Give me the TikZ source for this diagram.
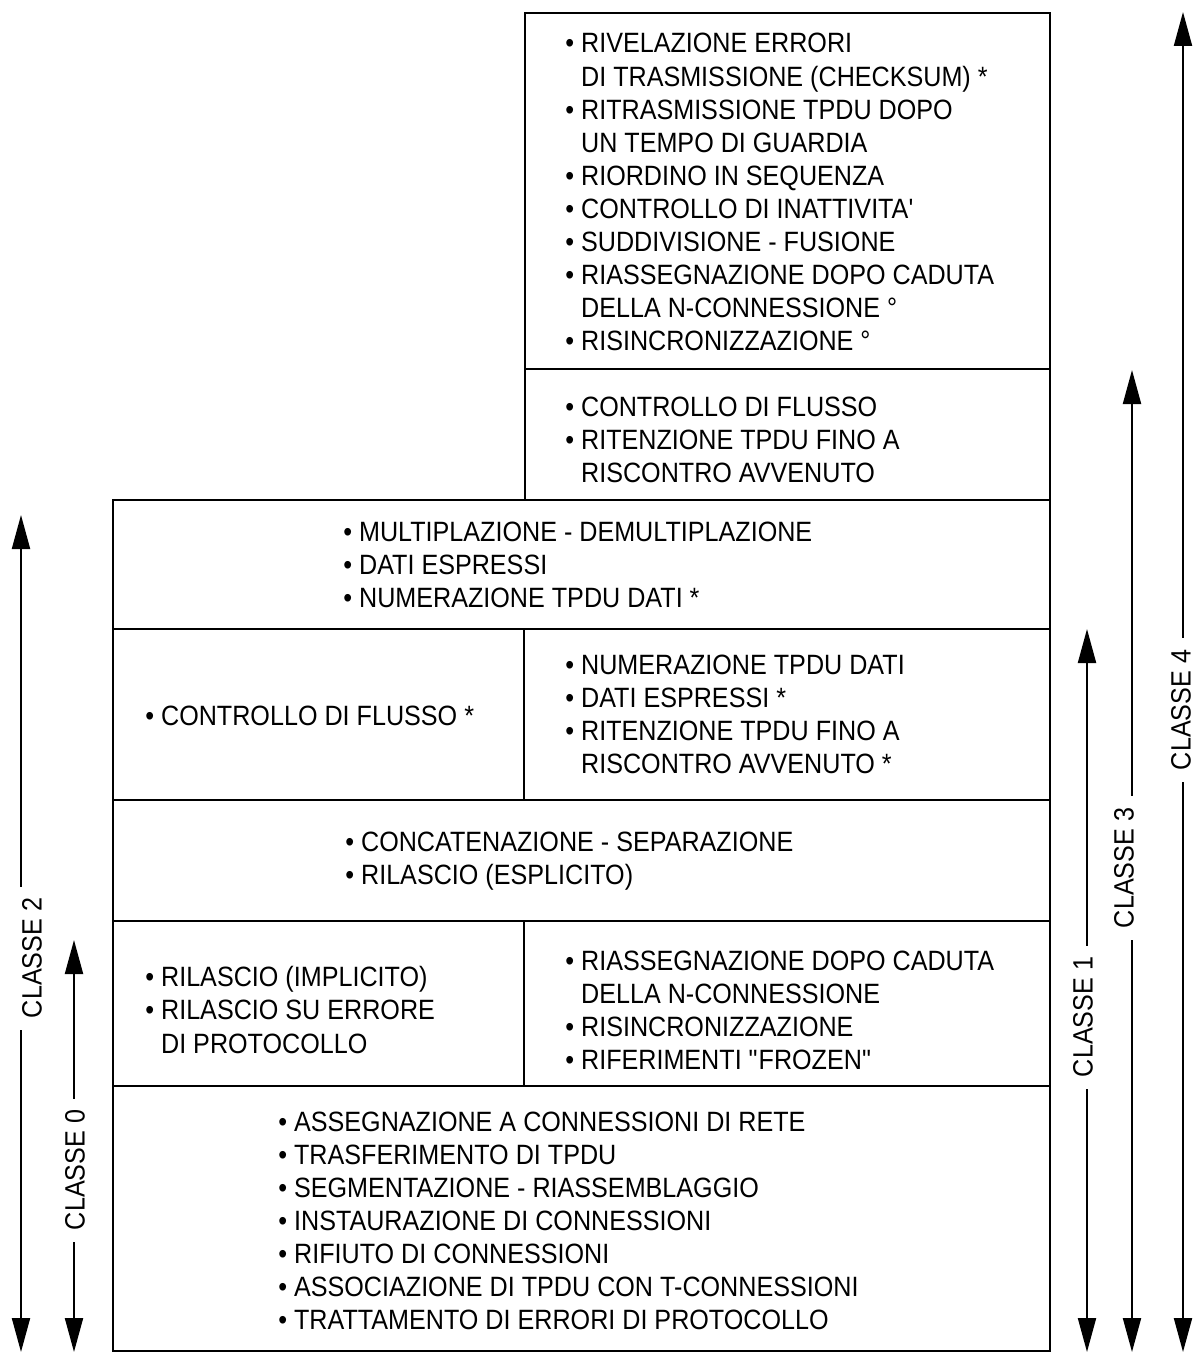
\documentclass[tikz,border=0pt]{standalone}
\usepackage{fontspec}
\setmainfont{Liberation Sans}[FakeStretch=0.9]
\usetikzlibrary{arrows.meta}

% bullet and the matching indent for wrapped lines
\newcommand{\bul}{•\ }
\newcommand{\contline}{\hphantom{•\ }}

\begin{document}
\begin{tikzpicture}[
    x=0.02cm, y=-0.02cm,
    frame/.style={line width=1.1pt},
    items/.style={anchor=west, align=left, inner sep=0pt, font=\fontsize{15.9}{18.8}\selectfont},
    classline/.style={line width=1.2pt, {Triangle[length=0.68cm,width=0.36cm]}-{Triangle[length=0.68cm,width=0.36cm]}},
    classname/.style={rotate=90, fill=white, inner xsep=6.5pt, inner ysep=1pt, font=\fontsize{15.9}{18.8}\selectfont}
]
\useasboundingbox (0,0) rectangle (1195,1353);

% Layer boxes
\draw[frame] (525,13) rectangle (1050,369);
\draw[frame] (525,369) rectangle (1050,500);
\draw[frame] (113,500) rectangle (1050,629);
\draw[frame] (113,629) rectangle (1050,800);
\draw[frame] (524,629) -- (524,800);
\draw[frame] (113,800) rectangle (1050,921);
\draw[frame] (113,921) rectangle (1050,1086);
\draw[frame] (524,921) -- (524,1086);
\draw[frame] (113,1086) rectangle (1050,1351);

% Functions in each layer
\node[items] (recovery) at (565,192) {\bul RIVELAZIONE ERRORI\\
  \contline DI TRASMISSIONE (CHECKSUM) *\\
  \bul RITRASMISSIONE TPDU DOPO\\
  \contline UN TEMPO DI GUARDIA\\
  \bul RIORDINO IN SEQUENZA\\
  \bul CONTROLLO DI INATTIVITA\textquotesingle\\
  \bul SUDDIVISIONE - FUSIONE\\
  \bul RIASSEGNAZIONE DOPO CADUTA\\
  \contline DELLA N-CONNESSIONE °\\
  \bul RISINCRONIZZAZIONE °};
\node[items] (flowctl) at (565,440) {\bul CONTROLLO DI FLUSSO\\
  \bul RITENZIONE TPDU FINO A\\
  \contline RISCONTRO AVVENUTO};
\node[items] (multiplex) at (343,565) {\bul MULTIPLAZIONE - DEMULTIPLAZIONE\\
  \bul DATI ESPRESSI\\
  \bul NUMERAZIONE TPDU DATI *};
\node[items] (flowopt) at (145,716) {\bul CONTROLLO DI FLUSSO *};
\node[items] (numbering) at (565,714) {\bul NUMERAZIONE TPDU DATI\\
  \bul DATI ESPRESSI *\\
  \bul RITENZIONE TPDU FINO A\\
  \contline RISCONTRO AVVENUTO *};
\node[items] (concat) at (345,861) {\bul CONCATENAZIONE - SEPARAZIONE\\
  \bul RILASCIO (ESPLICITO)};
\node[items] (release) at (145,1010) {\bul RILASCIO (IMPLICITO)\\
  \bul RILASCIO SU ERRORE\\
  \contline DI PROTOCOLLO};
\node[items] (reassign) at (565,1010) {\bul RIASSEGNAZIONE DOPO CADUTA\\
  \contline DELLA N-CONNESSIONE\\
  \bul RISINCRONIZZAZIONE\\
  \bul RIFERIMENTI \textquotedbl FROZEN\textquotedbl};
\node[items] (basic) at (278,1221) {\bul ASSEGNAZIONE A CONNESSIONI DI RETE\\
  \bul TRASFERIMENTO DI TPDU\\
  \bul SEGMENTAZIONE - RIASSEMBLAGGIO\\
  \bul INSTAURAZIONE DI CONNESSIONI\\
  \bul RIFIUTO DI CONNESSIONI\\
  \bul ASSOCIAZIONE DI TPDU CON T-CONNESSIONI\\
  \bul TRATTAMENTO DI ERRORI DI PROTOCOLLO};

% Class ranges
\coordinate (c2top) at (21,515);   \coordinate (c2bot) at (21,1352);
\coordinate (c0top) at (74,940);   \coordinate (c0bot) at (74,1352);
\coordinate (c1top) at (1087,629); \coordinate (c1bot) at (1087,1352);
\coordinate (c3top) at (1132,370); \coordinate (c3bot) at (1132,1352);
\coordinate (c4top) at (1183,12);  \coordinate (c4bot) at (1183,1352);

\draw[classline] (c2bot) -- (c2top);
\draw[classline] (c0bot) -- (c0top);
\draw[classline] (c1bot) -- (c1top);
\draw[classline] (c3bot) -- (c3top);
\draw[classline] (c4bot) -- (c4top);

\node[classname] (classe2) at (32,958) {CLASSE 2};
\node[classname] (classe0) at (75,1170) {CLASSE 0};
\node[classname] (classe1) at (1083,1017) {CLASSE 1};
\node[classname] (classe3) at (1124,868) {CLASSE 3};
\node[classname] (classe4) at (1181,710) {CLASSE 4};

\end{tikzpicture}
\end{document}
